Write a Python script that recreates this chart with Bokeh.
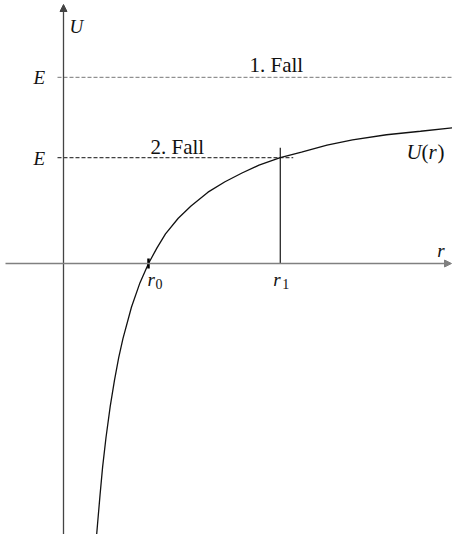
from bokeh.plotting import figure
from bokeh.models import Range1d, Arrow, NormalHead
from bokeh.core.properties import value
from bokeh.embed import file_html
from bokeh.resources import INLINE

# ---- data ----
r_curve = [0.376, 0.40, 0.43, 0.46, 0.50, 0.55, 0.60, 0.65, 0.70, 0.80, 0.90, 1.00,
           1.10, 1.20, 1.35, 1.50, 1.70, 1.90, 2.10, 2.30, 2.55, 2.80, 3.10, 3.40,
           3.80, 4.20, 4.67]
U_curve = [-1.64, -1.50, -1.33, -1.17, -1.00, -0.82, -0.67, -0.54, -0.43, -0.25,
           -0.11, 0.00, 0.09, 0.17, 0.26, 0.33, 0.41, 0.47, 0.52, 0.565, 0.608,
           0.64, 0.68, 0.71, 0.74, 0.76, 0.785]
r0 = 1.0
r1 = 2.55
E_levels = [1.07, 0.608]
case_labels = ["1. Fall", "2. Fall"]

# ---- layout ----
W, H = 452, 534
x_unit = 85.0    # px per r unit
y_unit = 174.0   # px per U unit
xmin = -63 / x_unit
xmax = xmin + W / x_unit
ymax = 263 / y_unit
ymin = ymax - H / y_unit

FONT = value("Liberation Serif")

p = figure(width=W, height=H, output_backend="svg", toolbar_location=None,
           x_range=Range1d(xmin, xmax), y_range=Range1d(ymin, ymax),
           min_border=0, min_border_left=0, min_border_right=0,
           min_border_top=0, min_border_bottom=0)
p.axis.visible = False
p.grid.visible = False
p.outline_line_color = None
p.background_fill_color = "white"
p.border_fill_color = "white"

# axes with arrows
p.add_layout(Arrow(end=NormalHead(size=7, fill_color="#444444", line_color="#444444", line_width=1),
                   x_start=0, y_start=ymin, x_end=0, y_end=ymax - 4 / y_unit,
                   line_color="#444444", line_width=1.3))
p.add_layout(Arrow(end=NormalHead(size=7, fill_color="#808080", line_color="#808080", line_width=1),
                   x_start=xmin + 5 / x_unit, y_start=0, x_end=xmax - 1 / x_unit, y_end=0,
                   line_color="#808080", line_width=1.6))

# energy levels
p.segment(x0=[-6 / x_unit], y0=[E_levels[0]], x1=[xmax], y1=[E_levels[0]],
          line_color="#777777", line_width=1, line_dash="4 2")
p.segment(x0=[-6 / x_unit], y0=[E_levels[1]], x1=[r1 + 13 / x_unit], y1=[E_levels[1]],
          line_color="#111111", line_width=1, line_dash="4 2")

# r1 marker line
p.segment(x0=[r1], y0=[0], x1=[r1], y1=[E_levels[1] + 10 / y_unit],
          line_color="black", line_width=1.1)

# curve
p.line(r_curve, U_curve, line_color="#111111", line_width=1.3)

# r0 tick
p.scatter([r0], [0], marker="dash", angle=1.5708, size=10, line_width=2.5,
          line_color="black")

def txt(x, y, s, dx, dy, size=19, style="italic"):
    p.text(x=[x], y=[y], text=[s], x_offset=dx, y_offset=dy - 6,
           text_font=FONT, text_font_size=f"{size}px", text_font_style=style,
           text_color="#111111", text_align="left", text_baseline="alphabetic")

# axis labels
txt(0, ymax, "U", 6, 32)
txt(r1, 0, "r", 437 - 280, -7)

# E labels
txt(0, E_levels[0], "E", -30, 6)
txt(0, E_levels[1], "E", -30, 7)

# case labels
txt(0, E_levels[0], case_labels[0], 186, -6, size=21, style="normal")
txt(0, E_levels[1], case_labels[1], 87, -5, size=21, style="normal")

# U(r)
txt(0, E_levels[1], "U", 343, 0, size=21)
txt(0, E_levels[1], "(", 358, 0, size=21, style="normal")
txt(0, E_levels[1], "r", 365, 0, size=21)
txt(0, E_levels[1], ")", 374, 0, size=21, style="normal")

# r0, r1 labels
txt(r0, 0, "r", -1, 22)
txt(r0, 0, "0", 7, 26, size=14, style="normal")
txt(r1, 0, "r", -7, 22)
txt(r1, 0, "1", 2, 26, size=14, style="normal")

open("out.html", "w").write(file_html(p, INLINE))
